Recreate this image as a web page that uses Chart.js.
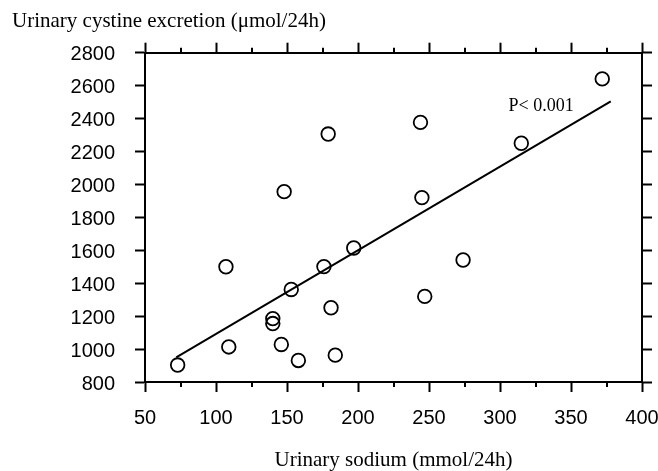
<!DOCTYPE html>
<html>
<head>
<meta charset="utf-8">
<script src="https://cdn.jsdelivr.net/npm/chart.js@4.4.1/dist/chart.umd.min.js"></script>
<style>
  html, body { margin: 0; padding: 0; background: #fff; }
</style>
</head>
<body>
<canvas id="chart" width="658" height="471"></canvas>
<script>
// --- DATA ---
const sodium  = [73, 107, 109, 140, 140, 146, 148, 153, 158, 176, 179, 181, 184, 197, 244, 245, 247, 274, 315, 372];
const cystine = [903, 1500, 1013, 1185, 1155, 1028, 1956, 1362, 931, 1501, 2306, 1251, 963, 1614, 2377, 1920, 1320, 1541, 2250, 2641];

// regression line end points
const fitX = [72, 378];
const fitY = [950, 2505];

const xTicks = [50, 100, 150, 200, 250, 300, 350, 400];
const xMinor = [75, 125, 175, 225, 275, 325, 375];
const yTicks = [800, 1000, 1200, 1400, 1600, 1800, 2000, 2200, 2400, 2600, 2800];

const yTitle = 'Urinary cystine excretion (\u03bcmol/24h)';
const xTitle = 'Urinary sodium (mmol/24h)';
const pNote = 'P< 0.001';
const pNoteAt = { x: 306, y: 2474 };

// --- HELPERS ---
const SANS = 'Liberation Sans';
const SERIF = 'Liberation Serif';
const setTicks = (list) => (s) => { s.ticks = list.map(v => ({ value: v })); };
const plain = (v) => String(v);   // no thousands separator
const axisGrid = { drawOnChartArea: false, tickLength: 10, tickWidth: 2, tickColor: '#000' };
const axisBorder = { display: true, color: '#000', width: 2 };

// short ticks between the labelled ones + the P value note
const extras = {
  id: 'extras',
  afterDraw(chart) {
    const { ctx, chartArea: a, scales } = chart;
    ctx.save();
    ctx.strokeStyle = '#000';
    ctx.lineWidth = 2;
    xMinor.forEach(v => {
      const px = Math.round(scales.x.getPixelForValue(v));
      ctx.beginPath();
      ctx.moveTo(px, a.bottom); ctx.lineTo(px, a.bottom + 5);
      ctx.moveTo(px, a.top); ctx.lineTo(px, a.top - 5);
      ctx.stroke();
    });
    ctx.fillStyle = '#000';
    ctx.font = `18px "${SERIF}"`;
    ctx.textBaseline = 'middle';
    ctx.fillText(pNote, scales.x.getPixelForValue(pNoteAt.x), scales.y.getPixelForValue(pNoteAt.y));
    ctx.restore();
  }
};

// --- CHART ---
new Chart(document.getElementById('chart'), {
  type: 'scatter',
  data: {
    datasets: [
      {
        data: sodium.map((x, i) => ({ x: x, y: cystine[i] })),
        pointStyle: 'circle',
        pointRadius: 6.8,
        pointHoverRadius: 6.8,
        pointBorderWidth: 1.8,
        pointBorderColor: '#000',
        pointBackgroundColor: 'rgba(0,0,0,0)'
      },
      {
        type: 'line',
        data: fitX.map((x, i) => ({ x: x, y: fitY[i] })),
        borderColor: '#000',
        borderWidth: 2,
        pointRadius: 0,
        fill: false
      }
    ]
  },
  options: {
    responsive: false,
    animation: false,
    devicePixelRatio: 1,
    layout: { padding: { left: 12, right: 0, top: 0, bottom: 0 } },
    plugins: {
      legend: { display: false },
      tooltip: { enabled: false },
      title: {
        display: true, text: yTitle, align: 'start', color: '#000',
        font: { family: SERIF, size: 21, weight: 'normal' },
        padding: { top: 9, bottom: 6 }
      }
    },
    scales: {
      x: {
        type: 'linear', position: 'bottom', min: 50, max: 400,
        afterBuildTicks: setTicks(xTicks),
        ticks: { color: '#000', font: { family: SANS, size: 20 }, padding: 14, maxRotation: 0, callback: plain },
        grid: axisGrid, border: axisBorder,
        title: { display: true, text: xTitle, color: '#000', font: { family: SERIF, size: 21, lineHeight: 1 }, padding: { top: 0, bottom: 0 } },
        afterFit: s => { s.height = 89; s.paddingLeft = 0; s.paddingRight = 0; }
      },
      x2: {
        type: 'linear', position: 'top', min: 50, max: 400,
        afterBuildTicks: setTicks(xTicks),
        ticks: { display: false },
        grid: axisGrid, border: axisBorder,
        afterFit: s => { s.height = 12.5; s.paddingLeft = 0; s.paddingRight = 0; }
      },
      y: {
        type: 'linear', position: 'left', min: 800, max: 2800,
        afterBuildTicks: setTicks(yTicks),
        ticks: { color: '#000', font: { family: SANS, size: 20 }, padding: 20, labelOffset: 2, callback: plain },
        grid: axisGrid, border: axisBorder,
        afterFit: s => { s.width = 133; s.paddingTop = 0; s.paddingBottom = 0; }
      },
      y2: {
        type: 'linear', position: 'right', min: 800, max: 2800,
        afterBuildTicks: setTicks(yTicks),
        ticks: { display: false },
        grid: axisGrid, border: axisBorder,
        afterFit: s => { s.width = 16; s.paddingTop = 0; s.paddingBottom = 0; }
      }
    }
  },
  plugins: [extras]
});
</script>
</body>
</html>
